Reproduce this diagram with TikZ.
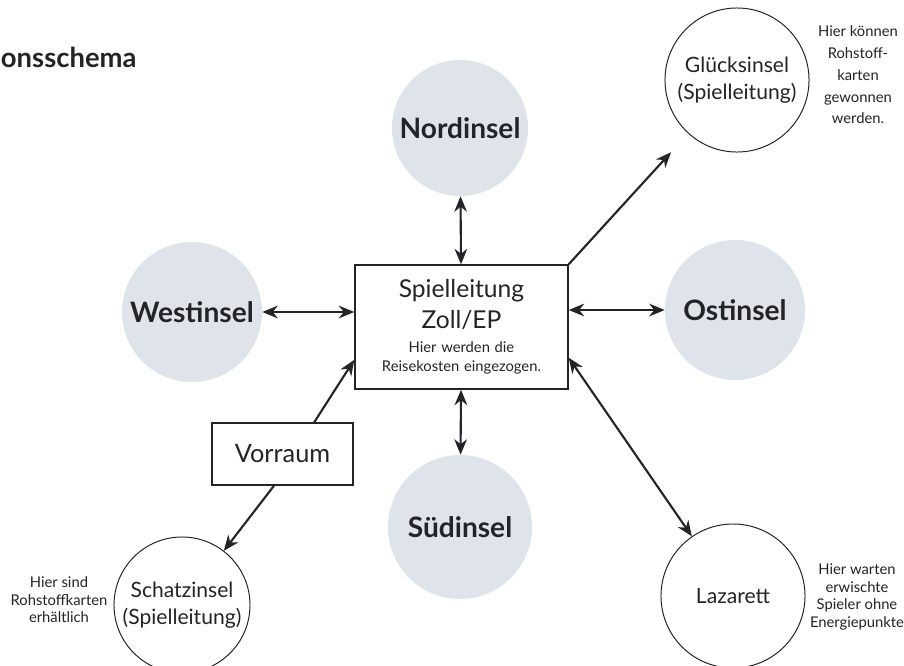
\documentclass[tikz,border=0pt]{standalone}
\usepackage{fontspec}
\setmainfont{Lato}
\usepackage{tikz}
\usetikzlibrary{arrows.meta,calc}
\definecolor{ink}{RGB}{35, 35, 40}
\definecolor{island}{RGB}{223, 228, 235}

\begin{document}
\begin{tikzpicture}[
  x=0.025cm, y=-0.025cm, color=ink,
  isle/.style={circle, fill=island, minimum size=3.5cm, inner sep=0pt, font=\bfseries\fontsize{20}{22}\selectfont},
  base/.style={circle, draw=ink, line width=0.7pt, minimum size=3.6cm, inner sep=0pt, align=center, font=\fontsize{15}{19}\selectfont},
  room/.style={draw=ink, line width=1pt, inner sep=0pt, align=center},
  note/.style={align=center, font=\fontsize{10.5}{12.5}\selectfont},
  link/.style={line width=1.5pt, -{Stealth[length=11pt,width=9pt]}},
  both/.style={link, {Stealth[length=11pt,width=9pt]}-{Stealth[length=11pt,width=9pt]}}
]
\useasboundingbox (0,0) rectangle (904,666);
\node[anchor=west, font=\bfseries\fontsize{19.5}{22}\selectfont] (title) at (-4,57) {onsschema};

\node[room, minimum width=5.325cm, minimum height=3.1cm, text width=5cm] (spiel) at (461.5,327)
  {{\fontsize{17.5}{22}\selectfont Spielleitung\\Zoll/EP\par}\vspace{3pt}
   {\fontsize{10.5}{14}\selectfont Hier werden die\\Reisekosten eingezogen.\par}};
\node[room, minimum width=3.525cm, minimum height=1.55cm, font=\fontsize{18}{20}\selectfont] (vorraum) at (282.5,454) {Vorraum};

\node[isle, minimum size=3.4cm] (nord) at (460,128) {Nordinsel};
\node[isle] (west) at (192,312) {Westinsel};
\node[isle] (ost) at (735,310) {Ostinsel};
\node[isle, minimum size=3.6cm] (sued) at (460,527) {Südinsel};

\node[base] (glueck) at (737,80) {Glücksinsel\\(Spielleitung)};
\node[base, minimum size=3.4cm] (schatz) at (182,605) {Schatzinsel\\(Spielleitung)};
\node[base] (laz) at (733,596) {Lazarett};

\node[note, font=\fontsize{10.5}{15.5}\selectfont] (gluecknote) at (858,75) {Hier können\\Rohstoff-\\karten\\gewonnen\\werden.};
\node[note] (schatznote) at (59,600) {Hier sind\\Rohstoffkarten\\erhältlich};
\node[note] (laznote) at (857,597) {Hier warten\\erwischte\\Spieler ohne\\Energiepunkte};

\draw[both] (nord) -- (spiel);
\draw[both] (west) -- (west -| spiel.west);
\draw[both] (ost) -- (ost -| spiel.east);
\draw[both] (spiel) -- (sued);
\draw[link, shorten >=18pt] (spiel.north east) -- (glueck);
\draw[link] (vorraum.45) -- (spiel.197);
\draw[link] (vorraum.255) -- (schatz);
\draw[both] (spiel.344) -- (laz);
\end{tikzpicture}
\end{document}
